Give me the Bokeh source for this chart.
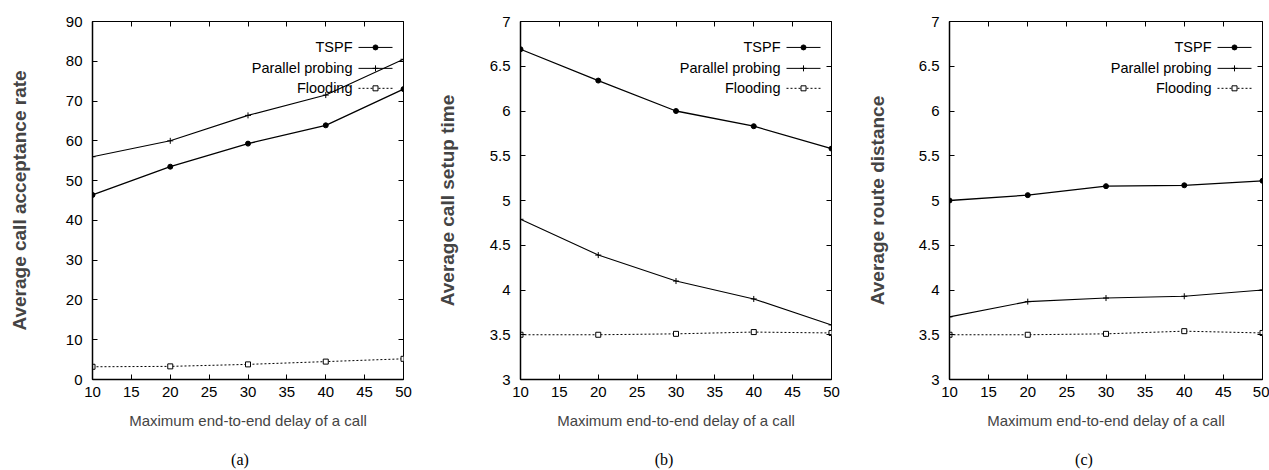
from bokeh.plotting import figure
from bokeh.layouts import row
from bokeh.models import (Range1d, LinearAxis, FixedTicker, CustomJSTickFormatter,
                          Label)
from bokeh.embed import file_html
from bokeh.resources import INLINE

# ---------------- data ----------------
delay = [10, 20, 30, 40, 50]
x_ticks = [10, 15, 20, 25, 30, 35, 40, 45, 50]

acc_tspf = [46.4, 53.5, 59.3, 63.9, 73.0]
acc_parallel = [56.0, 60.0, 66.4, 71.5, 80.5]
acc_flooding = [3.2, 3.3, 3.8, 4.5, 5.2]
acc_ticks = [0, 10, 20, 30, 40, 50, 60, 70, 80, 90]

setup_tspf = [6.69, 6.34, 6.00, 5.83, 5.58]
setup_parallel = [4.79, 4.39, 4.10, 3.90, 3.61]
setup_flooding = [3.50, 3.50, 3.51, 3.53, 3.52]

dist_tspf = [5.00, 5.06, 5.16, 5.17, 5.22]
dist_parallel = [3.70, 3.87, 3.91, 3.93, 4.00]
dist_flooding = [3.50, 3.50, 3.51, 3.54, 3.52]

half_ticks = [3, 3.5, 4, 4.5, 5, 5.5, 6, 6.5, 7]

series_names = ["TSPF", "Parallel probing", "Flooding"]

TICK_FONT = "Liberation Sans"
SANS = "Liberation Sans"
SERIF = "Liberation Serif"

H = 470
TOP = 21
BOTTOM = 90
NBSP = "\u00a0"


def make_panel(caption, cap_pad, ylabel, y0, y1, yticks, data, width, bl, br, ylab_standoff):
    p = figure(width=width, height=H, output_backend="svg", toolbar_location=None,
               x_range=Range1d(10, 50), y_range=Range1d(y0, y1),
               min_border_left=bl, min_border_right=br,
               min_border_top=TOP, min_border_bottom=BOTTOM,
               x_axis_type=None, y_axis_type=None)
    p.grid.visible = False
    p.outline_line_color = "black"
    p.outline_line_width = 1
    p.background_fill_color = "white"
    p.border_fill_color = "white"

    fmt = CustomJSTickFormatter(code="return tick.toString();")
    empty = CustomJSTickFormatter(code="return '';")

    frame_w = width - bl - br
    frame_h = H - TOP - BOTTOM
    dx = (50 - 10) / frame_w
    dy = (y1 - y0) / frame_h

    xa = LinearAxis(ticker=FixedTicker(ticks=x_ticks), formatter=fmt,
                    axis_label="Maximum end-to-end delay of a call")
    ya = LinearAxis(ticker=FixedTicker(ticks=yticks), formatter=fmt,
                    axis_label=ylabel)
    xt = LinearAxis(ticker=FixedTicker(ticks=x_ticks), formatter=empty)
    yr = LinearAxis(ticker=FixedTicker(ticks=yticks), formatter=empty)
    for ax in (xa, ya, xt, yr):
        ax.major_tick_in = 5
        ax.major_tick_out = 0
        ax.minor_tick_line_color = None
        ax.axis_line_color = "black"
        ax.axis_line_width = 1.5 if ax in (xa, ya) else 1
        ax.major_tick_line_color = "black"
        ax.major_label_text_font = TICK_FONT
        ax.major_label_text_font_size = "15px"
        ax.major_label_text_color = "black"
    xa.major_label_standoff = 7
    ya.major_label_standoff = 10
    xa.axis_label_text_font = TICK_FONT
    xa.axis_label_text_font_size = "15px"
    xa.axis_label_text_font_style = "normal"
    xa.axis_label_standoff = 12
    ya.axis_label_text_font = SANS
    ya.axis_label_text_font_size = "19px"
    ya.axis_label_text_font_style = "bold"
    ya.axis_label_standoff = ylab_standoff
    xt.axis_line_color = None
    yr.axis_line_color = None
    xt.major_label_standoff = 0
    yr.major_label_standoff = 0
    p.add_layout(xa, "below")
    p.add_layout(ya, "left")
    p.add_layout(xt, "above")
    p.add_layout(yr, "right")

    # caption below the panel: an extra, tick-less axis whose label is the caption;
    # trailing no-break spaces shift the centred caption slightly to the left
    ca = LinearAxis(ticker=FixedTicker(ticks=[]), formatter=empty,
                    axis_label=caption + NBSP * cap_pad)
    ca.axis_line_color = None
    ca.major_tick_line_color = None
    ca.minor_tick_line_color = None
    ca.major_tick_in = 0
    ca.major_tick_out = 0
    ca.major_label_standoff = 0
    ca.axis_label_standoff = 19
    ca.axis_label_text_font = SERIF
    ca.axis_label_text_font_size = "16px"
    ca.axis_label_text_font_style = "normal"
    ca.axis_label_text_color = "black"
    p.add_layout(ca, "below")

    tspf, par, flo = data
    p.line(delay, tspf, line_color="black", line_width=1.3)
    p.scatter(delay, tspf, marker="circle", size=5, fill_color="black", line_color="black")
    p.line(delay, par, line_color="black", line_width=1.1)
    p.scatter(delay, par, marker="cross", size=6, line_color="black", line_width=1)
    p.line(delay, flo, line_color="black", line_width=1, line_dash="2 2")
    p.scatter(delay, flo, marker="square", size=5, fill_color="white", line_color="black",
              line_width=1)

    # legend (text right-aligned, sample on the right like gnuplot)
    rows_px = [26, 47, 67]
    styles = [dict(dash="solid", marker="circle", fill="black", size=5),
              dict(dash="solid", marker="cross", fill="black", size=6),
              dict(dash="2 2", marker="square", fill="white", size=5)]
    for name, rp, st in zip(series_names, rows_px, styles):
        yv = y1 - rp * dy
        xa0 = 50 - 45 * dx
        xa1 = 50 - 11 * dx
        p.line([xa0, xa1], [yv, yv], line_color="black", line_width=1, line_dash=st["dash"])
        p.scatter([(xa0 + xa1) / 2], [yv], marker=st["marker"], size=st["size"],
                  fill_color=st["fill"], line_color="black")
        p.add_layout(Label(x=50 - 51 * dx, y=yv, text=name, text_align="right",
                           text_baseline="middle", text_font=TICK_FONT,
                           text_font_size="14.5px", text_color="black"))
    return p


pa = make_panel("(a)", 4, "Average call acceptance rate", 0, 90, acc_ticks,
                (acc_tspf, acc_parallel, acc_flooding), 430, 92, 27, 33)
pb = make_panel("(b)", 6, "Average call setup time", 3, 7, half_ticks,
                (setup_tspf, setup_parallel, setup_flooding), 428, 90, 27, 29)
pc = make_panel("(c)", 11, "Average route distance", 3, 7, half_ticks,
                (dist_tspf, dist_parallel, dist_flooding), 411, 91, 7, 28)

layout = row(pa, pb, pc, spacing=0)
open("out.html", "w").write(file_html(layout, INLINE))
